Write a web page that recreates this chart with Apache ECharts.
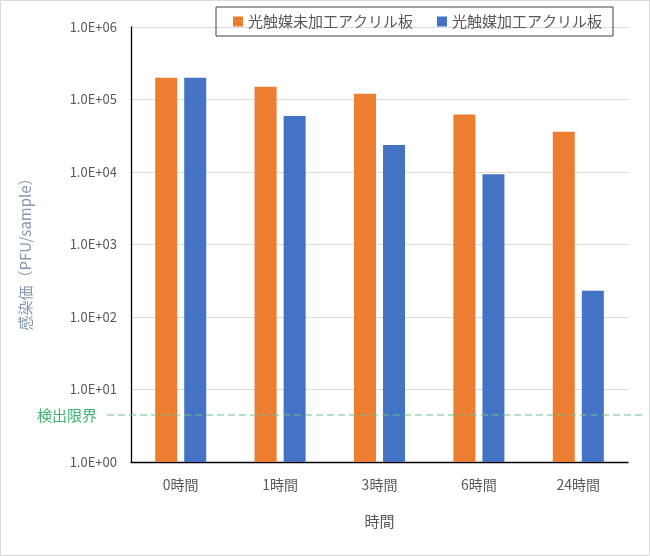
<!DOCTYPE html>
<html><head><meta charset="utf-8">
<script src="https://cdn.jsdelivr.net/npm/echarts@6/dist/echarts.min.js"></script>
<style>html,body{margin:0;padding:0;background:#fff}#c{width:650px;height:556px}</style>
</head><body><div id="c"></div>
<script>
const categories = ['0時間','1時間','3時間','6時間','24時間'];
const untreated = [200000, 150000, 120000, 62000, 36000];
const treated = [200000, 59000, 23500, 9300, 230];
const detectionLimit = 4.45;
const seriesNames = ['光触媒未加工アクリル板','光触媒加工アクリル板'];
const yTitle = '感染価（PFU/sample）';
const xTitle = '時間';
const limitLabel = '検出限界';

const font = '"Noto Sans CJK JP", "Noto Sans", sans-serif';
const chart = echarts.init(document.getElementById('c'), null, {renderer:'canvas'});
function fmt(v){
  const e = Math.round(Math.log10(v));
  return '1.0E+' + (e < 10 ? '0' : '') + e;
}
chart.setOption({
  animation:false,
  textStyle:{fontFamily:font},
  graphic:[{type:'rect',shape:{x:0.5,y:0.5,width:649,height:555},style:{fill:'none',stroke:'#d9d9d9',lineWidth:1},silent:true}],
  legend:{
    data:seriesNames, left:216, top:7, padding:[7,11,7,17], itemGap:24,
    icon:'rect', itemWidth:10, itemHeight:10,
    borderColor:'#404040', borderWidth:1,
    textStyle:{fontSize:15,color:'#595959',fontFamily:font}
  },
  grid:[
    {left:131, right:22, top:27, bottom:94, containLabel:false},
    {left:107, right:7, top:27, bottom:94, containLabel:false}
  ],
  xAxis:[
    {type:'category', data:categories, gridIndex:0,
     axisLine:{lineStyle:{color:'#000',width:1.3}}, axisTick:{show:false},
     axisLabel:{fontSize:14,color:'#595959',margin:16,fontFamily:font},
     name:xTitle, nameLocation:'middle', nameGap:52,
     nameTextStyle:{fontSize:15,color:'#595959',fontFamily:font}},
    {type:'value', gridIndex:1, min:0, max:1, show:false}
  ],
  yAxis:[
    {type:'log', logBase:10, min:1, max:1000000, gridIndex:0,
     axisLine:{show:true,lineStyle:{color:'#000',width:1.3}}, axisTick:{show:false},
     splitLine:{lineStyle:{color:'#d9d9d9',width:1}},
     axisLabel:{formatter:fmt,fontSize:13,color:'#595959',margin:14,fontFamily:font},
     name:yTitle, nameLocation:'middle', nameGap:98, nameRotate:90,
     nameTextStyle:{fontSize:15,color:'#8497b0',fontFamily:font,padding:[0,0,0,-12]}},
    {type:'log', logBase:10, min:1, max:1000000, gridIndex:1, show:false}
  ],
  series:[
    {name:seriesNames[0], type:'bar', data:untreated, xAxisIndex:0, yAxisIndex:0,
     barWidth:22, barGap:'32%', itemStyle:{color:'#ED7D31'}},
    {name:seriesNames[1], type:'bar', data:treated, xAxisIndex:0, yAxisIndex:0,
     barWidth:22, barGap:'32%', itemStyle:{color:'#4472C4'}},
    {name:'limit', type:'line', xAxisIndex:1, yAxisIndex:1, silent:true,
     symbol:'circle', symbolSize:0, showSymbol:true,
     itemStyle:{color:'#6cc08b'},
     lineStyle:{type:[7,4], color:'#6cc08b', width:1},
     data:[
       {value:[0, detectionLimit], label:{show:true, position:'left', distance:10, formatter:limitLabel, color:'#3cb371', fontSize:15, fontFamily:font}},
       {value:[1, detectionLimit]}
     ]}
  ]
});
</script></body></html>
